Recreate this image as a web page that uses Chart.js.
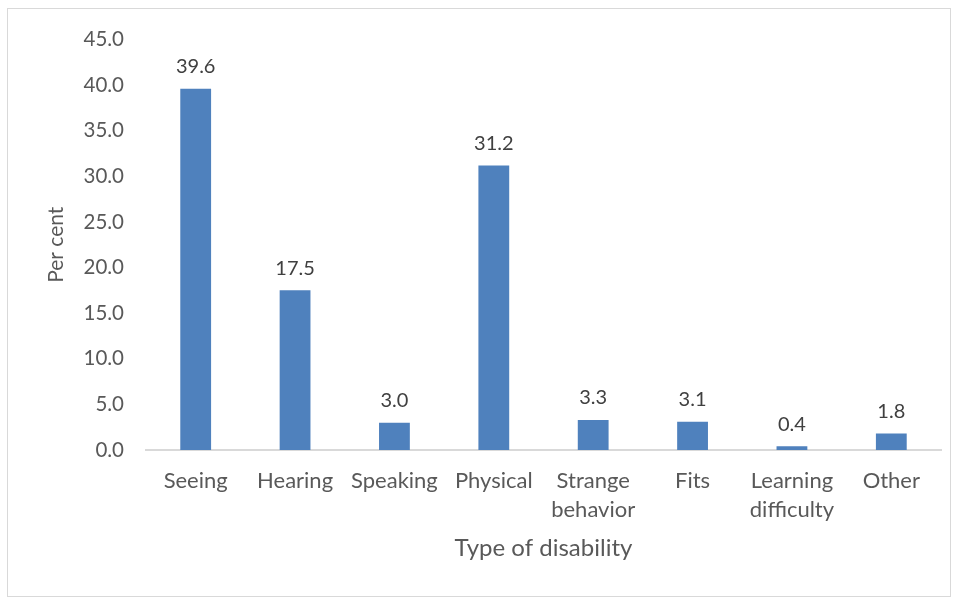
<!DOCTYPE html>
<html>
<head>
<meta charset="utf-8">
<script src="https://cdn.jsdelivr.net/npm/chart.js@4"></script>
<style>
  html, body { margin: 0; padding: 0; background: #fff; }
  #wrap { position: relative; width: 958px; height: 601px; }
  #frame { position: absolute; left: 7px; top: 8px; width: 942px; height: 587px; border: 1px solid #d9d9d9; pointer-events: none; }
</style>
</head>
<body>
<div id="wrap">
  <canvas id="chart" width="958" height="601"></canvas>
  <div id="frame"></div>
</div>
<script>
const categories = ['Seeing', 'Hearing', 'Speaking', 'Physical', ['Strange', 'behavior'], 'Fits', ['Learning', 'difficulty'], 'Other']
const percentValues = [39.6, 17.5, 3.0, 31.2, 3.3, 3.1, 0.4, 1.8]
const yMin = 0
const yMax = 45
const yStep = 5

// valores em cima das barras
const barLabels = {
  id: 'barLabels',
  afterDatasetsDraw(chart) {
    const ctx = chart.ctx
    const meta = chart.getDatasetMeta(0)
    ctx.save()
    ctx.font = '20px Lato'
    ctx.fillStyle = '#404040'
    ctx.textAlign = 'center'
    ctx.textBaseline = 'middle'
    meta.data.forEach((bar, i) => {
      ctx.fillText(percentValues[i].toFixed(1), bar.x, bar.y - 22)
    })
    ctx.restore()
  },
}

const ctx = document.getElementById('chart').getContext('2d')
new Chart(ctx, {
  type: 'bar',
  data: {
    labels: categories,
    datasets: [
      {
        data: percentValues,
        backgroundColor: '#4F81BD',
        barPercentage: 0.31,
        categoryPercentage: 1,
      },
    ],
  },
  options: {
    responsive: false,
    animation: false,
    layout: { padding: { top: 39.5, right: 17, left: 0, bottom: 0 } },
    plugins: {
      legend: { display: false },
      tooltip: { enabled: false },
    },
    scales: {
      y: {
        min: yMin,
        max: yMax,
        ticks: {
          stepSize: yStep,
          padding: 22,
          color: '#595959',
          font: { family: 'Lato', size: 20.5 },
          callback: (v) => v.toFixed(1),
        },
        grid: { display: false, drawTicks: false },
        border: { display: false },
        title: {
          display: true,
          text: 'Per cent',
          color: '#595959',
          font: { family: 'Lato', size: 21 },
          padding: { top: 44, bottom: 0 },
        },
        afterFit: (scale) => { scale.width = 146 },
      },
      x: {
        ticks: {
          padding: 16,
          color: '#595959',
          font: { family: 'Lato', size: 22, lineHeight: 1.32 },
          maxRotation: 0,
          autoSkip: false,
        },
        grid: { display: false, drawTicks: false },
        border: { display: true, color: '#d9d9d9', width: 2 },
        title: {
          display: true,
          text: 'Type of disability',
          color: '#595959',
          font: { family: 'Lato', size: 24 },
          padding: { top: 0, bottom: 38 },
        },
        afterFit: (scale) => { scale.height = 151 },
      },
    },
  },
  plugins: [barLabels],
})
</script>
</body>
</html>
